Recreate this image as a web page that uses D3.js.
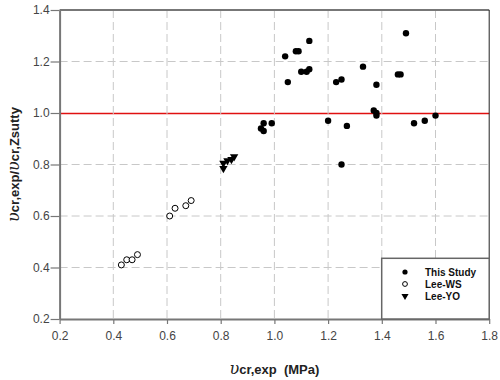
<!DOCTYPE html>
<html><head><meta charset="utf-8">
<script src="https://cdn.jsdelivr.net/npm/d3@7"></script>
<style>body{margin:0;background:#fff}svg{display:block}</style>
</head><body>
<svg id="c" width="500" height="380"></svg>
<script>
const studyX = [1.04,1.08,1.09,1.13,1.05,1.10,1.12,1.13,1.23,1.25,1.33,1.38,1.46,1.47,1.49,1.37,1.38,1.38,1.52,1.56,1.60,1.20,1.27,0.96,0.99,0.95,0.96,1.25];
const studyY = [1.22,1.24,1.24,1.28,1.12,1.16,1.16,1.17,1.12,1.13,1.18,1.11,1.15,1.15,1.31,1.01,1.00,0.99,0.96,0.97,0.99,0.97,0.95,0.96,0.96,0.94,0.93,0.80];
const wsX = [0.43,0.45,0.47,0.49,0.61,0.63,0.67,0.69];
const wsY = [0.41,0.43,0.43,0.45,0.60,0.63,0.64,0.66];
const yoX = [0.81,0.81,0.825,0.84,0.85];
const yoY = [0.785,0.805,0.815,0.82,0.83];
const xTicks = [0.2,0.4,0.6,0.8,1.0,1.2,1.4,1.6,1.8];
const yTicks = [0.2,0.4,0.6,0.8,1.0,1.2,1.4];
const legendLabels = ["This Study","Lee-WS","Lee-YO"];

const svg = d3.select("#c");
const L=59.6, R=489.2, T=10, B=319;
const x = d3.scaleLinear().domain([0.2,1.8]).range([L,R]);
const y = d3.scaleLinear().domain([0.2,1.4]).range([B,T]);
const font = "Liberation Sans, Arial, sans-serif";

// reference line
const ry = Math.round(y(1.0)) + 0.5;
svg.append("line").attr("x1",L).attr("x2",R).attr("y1",ry).attr("y2",ry)
  .attr("stroke","#e01010").attr("stroke-width",1.3);

// grid
const g = svg.append("g");
g.selectAll(".vg").data(xTicks.slice(1,-1)).enter().append("line")
  .attr("x1",d=>x(d)).attr("x2",d=>x(d)).attr("y1",T).attr("y2",B)
  .attr("stroke","#c8c8c8").attr("stroke-dasharray","8,4");
g.selectAll(".hg").data(yTicks.slice(1,-1).filter(d=>d!==1.0)).enter().append("line")
  .attr("x1",L).attr("x2",R).attr("y1",d=>y(d)).attr("y2",d=>y(d))
  .attr("stroke","#c8c8c8").attr("stroke-dasharray","8,4");

// axes
const xAxis = svg.append("g").attr("transform",`translate(0,${B})`)
  .call(d3.axisBottom(x).tickValues(xTicks).tickFormat(d3.format(".1f")).tickSizeInner(5).tickSizeOuter(0));
const yAxis = svg.append("g").attr("transform",`translate(${L},0)`)
  .call(d3.axisLeft(y).tickValues(yTicks).tickFormat(d3.format(".1f")).tickSizeInner(9).tickSizeOuter(0));
[xAxis,yAxis].forEach(a=>{
  a.select(".domain").attr("stroke","#777").attr("stroke-width",2);
  a.selectAll(".tick line").attr("stroke","#777").attr("stroke-width",1.2);
  a.selectAll(".tick text").attr("font-family",font).attr("font-size",12).attr("fill","#444");
});
xAxis.selectAll(".tick text").attr("dy","1.1em");
yAxis.selectAll(".tick text").attr("x",-10);
// top & right borders
svg.append("line").attr("x1",L).attr("x2",R).attr("y1",T).attr("y2",T).attr("stroke","#777").attr("stroke-width",2);
svg.append("line").attr("x1",R).attr("x2",R).attr("y1",T).attr("y2",B).attr("stroke","#222").attr("stroke-width",1);

// markers
const tri = d3.symbol().type(d3.symbolTriangle).size(30);
svg.append("g").selectAll("circle").data(d3.zip(studyX,studyY)).enter().append("circle")
  .attr("cx",d=>x(d[0])).attr("cy",d=>y(d[1])).attr("r",3.2).attr("fill","#000");
svg.append("g").selectAll("circle").data(d3.zip(wsX,wsY)).enter().append("circle")
  .attr("cx",d=>x(d[0])).attr("cy",d=>y(d[1])).attr("r",3).attr("fill","#fff").attr("stroke","#000").attr("stroke-width",1);
svg.append("g").selectAll("path").data(d3.zip(yoX,yoY)).enter().append("path")
  .attr("d",tri).attr("transform",d=>`translate(${x(d[0])},${y(d[1])}) rotate(180)`).attr("fill","#000");

// legend
const lg = svg.append("g");
lg.append("rect").attr("x",381.7).attr("y",258.3).attr("width",R-381.7).attr("height",B-258.3)
  .attr("fill","#fff").attr("stroke","#666").attr("stroke-width",1.5);
const ly=[272,284,296];
lg.append("circle").attr("cx",405).attr("cy",ly[0]).attr("r",2.6).attr("fill","#000");
lg.append("circle").attr("cx",405).attr("cy",ly[1]).attr("r",2.4).attr("fill","#fff").attr("stroke","#000");
lg.append("path").attr("d",d3.symbol().type(d3.symbolTriangle).size(22)).attr("transform",`translate(405,${ly[2]}) rotate(180)`).attr("fill","#000");
lg.selectAll("text").data(legendLabels).enter().append("text")
  .attr("x",425).attr("y",(d,i)=>ly[i]).attr("dy","0.35em")
  .attr("font-family",font).attr("font-size",10).attr("font-weight","bold").attr("fill","#111").text(d=>d);

// axis titles
const nu = "υ";
const xt = svg.append("text").attr("x",(L+R)/2).attr("y",374).attr("text-anchor","middle")
  .attr("font-family",font).attr("font-size",13).attr("font-weight","bold").attr("fill","#222");
xt.append("tspan").attr("font-family","DejaVu Serif, serif").attr("font-style","italic").attr("font-weight","normal").attr("font-size",16).text(nu);
xt.append("tspan").text("cr,exp\u00a0\u00a0(MPa)");

const yt = svg.append("text").attr("transform",`translate(19,${(T+B)/2}) rotate(-90)`).attr("text-anchor","middle")
  .attr("font-family",font).attr("font-size",13).attr("font-weight","bold").attr("fill","#222");
yt.append("tspan").attr("font-family","DejaVu Serif, serif").attr("font-style","italic").attr("font-weight","normal").attr("font-size",16).text(nu);
yt.append("tspan").text("cr,exp/");
yt.append("tspan").attr("font-family","DejaVu Serif, serif").attr("font-style","italic").attr("font-weight","normal").attr("font-size",16).text(nu);
yt.append("tspan").text("cr,Zsutty");
</script>
</body></html>
